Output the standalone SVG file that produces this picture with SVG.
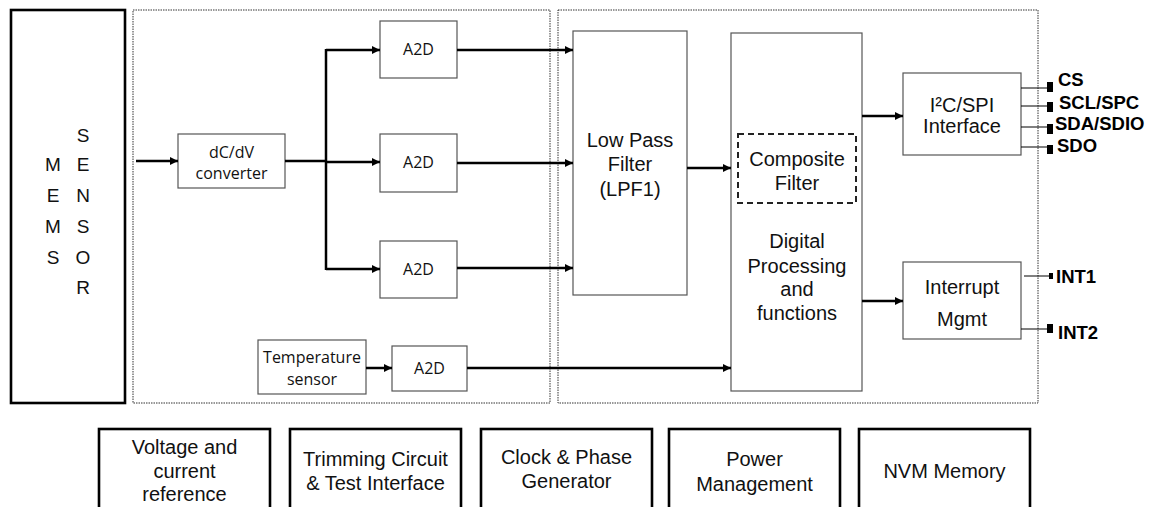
<svg xmlns="http://www.w3.org/2000/svg" width="1166" height="507" viewBox="0 0 1166 507">
<defs>
<marker id="ah" markerUnits="userSpaceOnUse" markerWidth="10" markerHeight="10" refX="8" refY="4" orient="auto">
<path d="M0,0 L8,4 L0,8 z" fill="#000"/>
</marker>
<style>
.thick{fill:#fff;stroke:#000;stroke-width:2.6}
.thin{fill:#fff;stroke:#555;stroke-width:1.2}
.dotted{fill:none;stroke:#333;stroke-width:1;stroke-dasharray:1.5 1}
.dash{fill:none;stroke:#222;stroke-width:2;stroke-dasharray:6 4}
.arr{fill:none;stroke:#000;stroke-width:2.5;marker-end:url(#ah)}
.ln{fill:none;stroke:#000;stroke-width:2.5}
.pin{fill:none;stroke:#000;stroke-width:1}
.a{font-family:"Liberation Sans",Arial,sans-serif;font-size:20px;fill:#111;text-anchor:middle}
.m{font-family:"Liberation Sans",Arial,sans-serif;font-size:19px;fill:#111;text-anchor:middle}
.c{font-family:"Open Sans",Lato,sans-serif;font-size:16px;fill:#111;text-anchor:middle}
.b{font-family:"Liberation Sans",Arial,sans-serif;font-size:18.5px;font-weight:bold;fill:#000}
</style>
</defs>

<g id="region-analog"><rect class="dotted" x="133" y="10" width="417" height="393"/></g>
<g id="region-digital"><rect class="dotted" x="558" y="10" width="480" height="393"/></g>

<g id="mems">
<rect class="thick" x="11" y="10" width="114" height="393"/>
<text class="m" x="83" y="142">S</text>
<text class="m" x="53" y="171">M</text><text class="m" x="83" y="171">E</text>
<text class="m" x="53" y="202">E</text><text class="m" x="83" y="202">N</text>
<text class="m" x="53" y="233">M</text><text class="m" x="83" y="233">S</text>
<text class="m" x="53" y="264">S</text><text class="m" x="83" y="264">O</text>
<text class="m" x="83" y="294">R</text>
</g>

<g id="dcdv">
<rect class="thin" x="178" y="134" width="107" height="54"/>
<text class="c" x="231.5" y="158">dC/dV</text>
<text class="c" x="231.5" y="179">converter</text>
</g>

<g id="a2d1"><rect class="thin" x="380" y="21" width="77" height="57"/><text class="c" x="418.5" y="55">A2D</text></g>
<g id="a2d2"><rect class="thin" x="380" y="134" width="77" height="58"/><text class="c" x="418.5" y="168">A2D</text></g>
<g id="a2d3"><rect class="thin" x="380" y="241" width="77" height="57"/><text class="c" x="418.5" y="275">A2D</text></g>

<g id="temp">
<rect class="thin" x="258" y="340" width="108" height="54"/>
<text class="c" x="312" y="363">Temperature</text>
<text class="c" x="312" y="385">sensor</text>
</g>
<g id="a2d4"><rect class="thin" x="392" y="346" width="75" height="45"/><text class="c" x="429.5" y="374">A2D</text></g>

<g id="lpf">
<rect class="thin" x="573" y="31" width="114" height="264"/>
<text class="a" x="630" y="147">Low Pass</text>
<text class="a" x="630" y="171">Filter</text>
<text class="a" x="630" y="196">(LPF1)</text>
</g>

<g id="dsp">
<rect class="thin" x="731" y="33" width="131" height="358"/>
<rect class="dash" x="738" y="134" width="118" height="69"/>
<text class="a" x="797" y="166">Composite</text>
<text class="a" x="797" y="190">Filter</text>
<text class="a" x="797" y="248">Digital</text>
<text class="a" x="797" y="273">Processing</text>
<text class="a" x="797" y="296">and</text>
<text class="a" x="797" y="320">functions</text>
</g>

<g id="i2c">
<rect class="thin" x="903" y="73" width="118" height="82"/>
<text class="a" x="962" y="112">I²C/SPI</text>
<text class="a" x="962" y="133">Interface</text>
</g>
<g id="irq">
<rect class="thin" x="903" y="262" width="118" height="77"/>
<text class="a" x="962" y="294">Interrupt</text>
<text class="a" x="962" y="326">Mgmt</text>
</g>

<g id="pins">
<line class="pin" x1="1021" y1="88" x2="1047" y2="88"/><rect x="1047" y="82" width="6" height="10" fill="#000"/><text class="b" x="1058" y="86">CS</text>
<line class="pin" x1="1021" y1="106" x2="1047" y2="106"/><rect x="1047" y="102" width="6" height="10" fill="#000"/><text class="b" x="1059" y="109">SCL/SPC</text>
<line class="pin" x1="1021" y1="127" x2="1047" y2="127"/><rect x="1047" y="124" width="6" height="10" fill="#000"/><text class="b" x="1055" y="130">SDA/SDIO</text>
<line class="pin" x1="1021" y1="147" x2="1047" y2="147"/><rect x="1047" y="145" width="6" height="9" fill="#000"/><text class="b" x="1057" y="152">SDO</text>
<line class="pin" x1="1024" y1="276" x2="1049" y2="276"/><rect x="1049" y="273" width="4" height="6" fill="#000"/><text class="b" x="1056" y="283">INT1</text>
<line class="pin" x1="1021" y1="329" x2="1047" y2="329"/><rect x="1047" y="324" width="6" height="9" fill="#000"/><text class="b" x="1058" y="339">INT2</text>
</g>

<g id="bottom">
<g id="vref"><rect class="thick" x="99" y="429" width="171" height="100"/>
<text class="a" x="184.5" y="454">Voltage and</text><text class="a" x="184.5" y="478">current</text><text class="a" x="184.5" y="501">reference</text></g>
<g id="trim"><rect class="thick" x="290" y="429" width="171" height="100"/>
<text class="a" x="375.5" y="466">Trimming Circuit</text><text class="a" x="375.5" y="490">&amp; Test Interface</text></g>
<g id="clock"><rect class="thick" x="481" y="429" width="171" height="100"/>
<text class="a" x="566.5" y="464">Clock &amp; Phase</text><text class="a" x="566.5" y="488">Generator</text></g>
<g id="power"><rect class="thick" x="669" y="429" width="171" height="100"/>
<text class="a" x="754.5" y="466">Power</text><text class="a" x="754.5" y="491">Management</text></g>
<g id="nvm"><rect class="thick" x="859" y="429" width="171" height="100"/>
<text class="a" x="944.5" y="478">NVM Memory</text></g>
</g>

<g id="connectors">
<line class="arr" x1="136" y1="161" x2="178" y2="161"/>
<polyline class="ln" points="285,161 326,161"/>
<line class="ln" x1="326" y1="49" x2="326" y2="270"/>
<line class="arr" x1="326" y1="50" x2="380" y2="50"/>
<line class="arr" x1="326" y1="162" x2="380" y2="162"/>
<line class="arr" x1="326" y1="269" x2="380" y2="269"/>
<line class="arr" x1="457" y1="50" x2="573" y2="50"/>
<line class="arr" x1="457" y1="163" x2="573" y2="163"/>
<line class="arr" x1="457" y1="268" x2="573" y2="268"/>
<line class="arr" x1="687" y1="168" x2="731" y2="168"/>
<line class="arr" x1="366" y1="368" x2="392" y2="368"/>
<line class="arr" x1="467" y1="368" x2="731" y2="368"/>
<line class="arr" x1="862" y1="116" x2="903" y2="116"/>
<line class="arr" x1="862" y1="301" x2="903" y2="301"/>
</g>
</svg>
